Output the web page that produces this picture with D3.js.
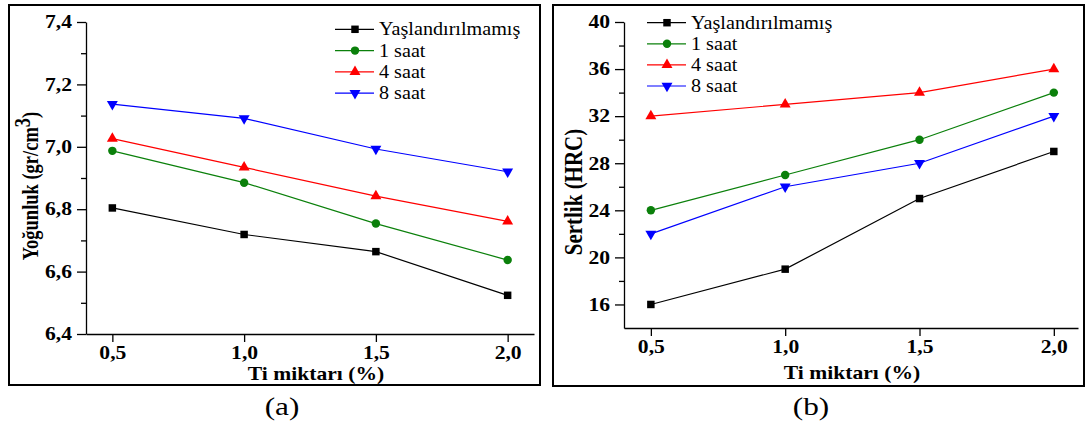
<!DOCTYPE html>
<html>
<head>
<meta charset="utf-8">
<script src="https://cdn.jsdelivr.net/npm/d3@7"></script>
<style>
  body { margin: 0; background: #fff; }
</style>
</head>
<body>
<div id="chart"></div>
<script>
// Data
const tiAmounts = [0.5, 1.0, 1.5, 2.0];
const seriesNames = ["Yaşlandırılmamış", "1 saat", "4 saat", "8 saat"];
const seriesColors = ["#000000", "#0b800b", "#ff0000", "#0000ff"];

// (a) density, gr/cm3
const densityUnaged = [6.804, 6.719, 6.664, 6.524];
const density1h = [6.987, 6.885, 6.754, 6.637];
const density4h = [7.026, 6.934, 6.842, 6.761];
const density8h = [7.137, 7.091, 6.993, 6.920];
const densityTicks = [6.4, 6.6, 6.8, 7.0, 7.2, 7.4];
const densityMinor = [6.5, 6.7, 6.9, 7.1, 7.3];

// (b) hardness, HRC
const hardnessUnaged = [16, 19, 25, 29];
const hardness1h = [24, 27, 30, 34];
const hardness4h = [32, 33, 34, 36];
const hardness8h = [22, 26, 28, 32];
const hardnessTicks = [16, 20, 24, 28, 32, 36, 40];
const hardnessMinor = [18, 22, 26, 30, 34, 38];

const xTicks = [0.5, 1.0, 1.5, 2.0];

const FONT = 'Liberation Serif';
const STRETCH = 1.2; // the source figure is a bit wider than tall

const width = 1086, height = 433;

const svg = d3.select('#chart')
    .append('svg')
    .attr('width', width)
    .attr('height', height);

const comma = f => v => d3.format(f)(v).replace('.', ',');

const symbols = [
    d3.symbol().type(d3.symbolSquare).size(56),
    d3.symbol().type(d3.symbolCircle).size(56),
    d3.symbol().type(d3.symbolTriangle).size(52),
    d3.symbol().type(d3.symbolTriangle).size(52)
];
const symbolRotate = [0, 0, 0, 180];

// horizontal text placed at (x, y) and stretched sideways
function addText(x, y, str, size, opts) {
    opts = opts || {};
    return svg.append('text')
        .attr('transform', `translate(${x},${y}) scale(${opts.sx || STRETCH},1)${opts.rotate ? ' rotate(' + opts.rotate + ')' : ''}`)
        .attr('font-family', FONT)
        .attr('font-size', size)
        .attr('font-weight', opts.bold ? 'bold' : 'normal')
        .attr('text-anchor', opts.anchor || 'start')
        .attr('fill', '#000')
        .text(str);
}

function styleTicks(axis) {
    axis.selectAll('text')
        .attr('font-family', FONT)
        .attr('font-size', 18)
        .attr('font-weight', 'bold')
        .attr('fill', '#000')
        .attr('transform', function() {
            const x = +this.getAttribute('x') || 0;
            return `translate(${x},0) scale(${STRETCH},1)`;
        })
        .attr('x', 0);
    axis.selectAll('.domain, line').attr('stroke', '#000').attr('stroke-width', 1.3);
}

function drawPanel(p) {
    // frame
    svg.append('rect')
        .attr('x', p.frame[0])
        .attr('y', p.frame[1])
        .attr('width', p.frame[2])
        .attr('height', p.frame[3])
        .attr('fill', 'none')
        .attr('stroke', '#000')
        .attr('stroke-width', 2);

    let xScale = d3.scaleLinear().domain(p.xDomain).range(p.xRange);
    let yScale = d3.scaleLinear().domain(p.yDomain).range(p.yRange);

    // minor y ticks
    let yMinor = svg.append('g')
        .attr('transform', `translate(${p.xRange[0]},0)`)
        .call(d3.axisLeft(yScale).tickValues(p.minorTicks).tickSize(5).tickFormat(''));
    yMinor.select('.domain').remove();
    yMinor.selectAll('line').attr('stroke', '#000').attr('stroke-width', 1.3);

    // y axis
    let yAxis = svg.append('g')
        .attr('transform', `translate(${p.xRange[0]},0)`)
        .call(d3.axisLeft(yScale).tickValues(p.yTicks).tickSize(9).tickSizeOuter(0)
            .tickPadding(5).tickFormat(p.yFormat));
    styleTicks(yAxis);

    // x axis
    let xAxis = svg.append('g')
        .attr('transform', `translate(0,${p.yRange[0]})`)
        .call(d3.axisBottom(xScale).tickValues(xTicks).tickSize(8).tickSizeOuter(0)
            .tickPadding(4).tickFormat(comma('.1f')));
    styleTicks(xAxis);

    // series lines and markers
    p.series.forEach((values, i) => {
        const pts = tiAmounts.map((t, j) => [t, values[j]]);
        svg.append('path')
            .datum(pts)
            .attr('fill', 'none')
            .attr('stroke', seriesColors[i])
            .attr('stroke-width', 1.2)
            .attr('d', d3.line().x(d => xScale(d[0])).y(d => yScale(d[1])));

        svg.selectAll(null)
            .data(pts)
            .enter()
            .append('path')
            .attr('d', symbols[i])
            .attr('fill', seriesColors[i])
            .attr('transform', d => `translate(${xScale(d[0])},${yScale(d[1])}) rotate(${symbolRotate[i]})`);
    });

    // legend
    seriesNames.forEach((name, i) => {
        const ly = p.legend[1] + i * p.legendStep;
        svg.append('line')
            .attr('x1', p.legend[0]).attr('x2', p.legend[0] + 39)
            .attr('y1', ly).attr('y2', ly)
            .attr('stroke', seriesColors[i])
            .attr('stroke-width', 1.2);
        svg.append('path')
            .attr('d', symbols[i]())
            .attr('fill', seriesColors[i])
            .attr('transform', `translate(${p.legend[0] + 20},${ly}) rotate(${symbolRotate[i]})`);
        addText(p.legend[0] + 44, ly + 6, name, 18, { sx: 1.12 });
    });

    // x-axis label
    addText(p.xLabelX, p.xLabelY, 'Ti miktarı (%)', 18, { bold: true, anchor: 'middle' });

    // y-axis label
    const yl = addText(p.yLabelX, p.yLabelY, '', p.yLabelSize, { bold: true, anchor: 'middle', rotate: -90 });
    yl.append('tspan').text(p.yLabel);
    if (p.yLabelSup) {
        yl.append('tspan').attr('dy', -7).text(p.yLabelSup);
        yl.append('tspan').attr('dy', 7).text(')');
    }

    // caption
    addText(p.caption, 415, p.captionText, 25, { anchor: 'middle', sx: 1.25 });
}

drawPanel({
    frame: [9, 5, 531, 380],
    xDomain: [0.4, 2.1], xRange: [86, 534],
    yDomain: [6.4, 7.4], yRange: [334, 22],
    yTicks: densityTicks,
    minorTicks: densityMinor,
    yFormat: comma('.1f'),
    series: [densityUnaged, density1h, density4h, density8h],
    legend: [335, 29.3], legendStep: 21.3,
    xLabelX: 316, xLabelY: 380,
    yLabelX: 38, yLabelY: 186, yLabelSize: 18.5,
    yLabel: 'Yoğunluk (gr/cm', yLabelSup: '3',
    caption: 282, captionText: '(a)'
});

drawPanel({
    frame: [553, 5, 531, 381],
    xDomain: [0.4, 2.09], xRange: [624, 1078],
    yDomain: [14, 40], yRange: [328, 22],
    yTicks: hardnessTicks,
    minorTicks: hardnessMinor,
    yFormat: d3.format('d'),
    series: [hardnessUnaged, hardness1h, hardness4h, hardness8h],
    legend: [647, 22.7], legendStep: 21.1,
    xLabelX: 852, xLabelY: 379,
    yLabelX: 582, yLabelY: 192, yLabelSize: 21,
    yLabel: 'Sertlik (HRC)',
    caption: 811, captionText: '(b)'
});
</script>
</body>
</html>
